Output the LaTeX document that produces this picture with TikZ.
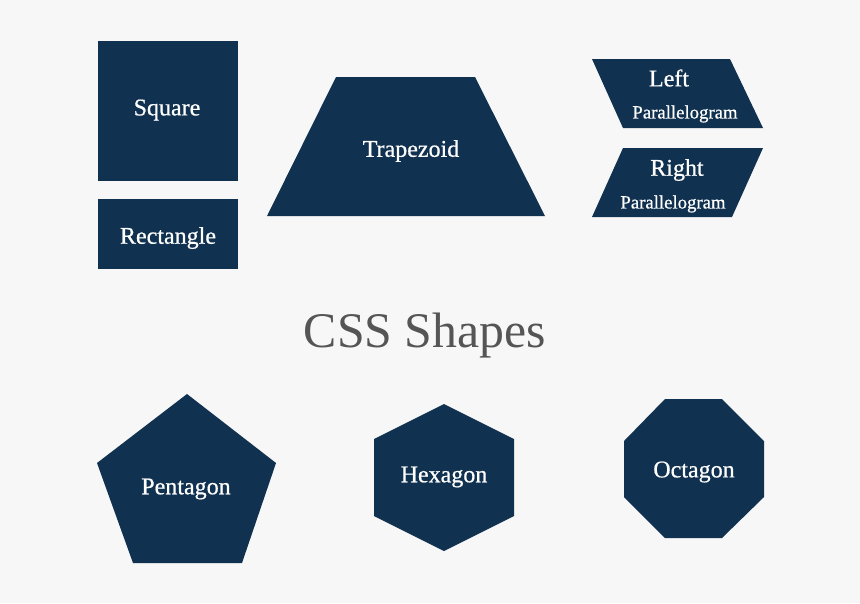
\documentclass[tikz,border=0pt]{standalone}
\usepackage{fontspec}
\setmainfont{Liberation Serif}
\definecolor{navy}{HTML}{10314F}
\definecolor{paper}{HTML}{F7F7F7}
\definecolor{titlegrey}{HTML}{555555}

\tikzset{
  shapefill/.style={fill=navy},
  shapelabel/.style={text=white, font=\fontsize{20.5}{22}\selectfont\addfontfeature{FakeBold=0.6}, inner sep=0pt},
  smalllabel/.style={text=white, font=\fontsize{16}{18}\selectfont\addfontfeature{FakeBold=0.6}, inner sep=0pt}
}

\begin{document}
\begin{tikzpicture}[x=0.03cm, y=-0.03cm]

    \fill[paper] (0,0) rectangle (860,603);
    \useasboundingbox (0,0) rectangle (860,603);

    % top row
    \fill[shapefill] (98,41) rectangle (238,181);
    \fill[shapefill] (98,199) rectangle (238,269);
    \fill[shapefill] (336,77) -- (475,77) -- (545,216) -- (267,216) -- cycle;
    \fill[shapefill] (592,59) -- (730,59) -- (763,128) -- (623,128) -- cycle;
    \fill[shapefill] (623,148) -- (763,148) -- (732,217) -- (592,217) -- cycle;

    % bottom row
    \fill[shapefill] (187,394) -- (276,463) -- (242,563) -- (133,563) -- (97,463) -- cycle;
    \fill[shapefill] (444,404) -- (514,439) -- (514,516) -- (444,551) -- (374,516) -- (374,439) -- cycle;
    \fill[shapefill] (665,399) -- (722,399) -- (764,441) -- (764,497) -- (722,538)
      -- (665,538) -- (624,497) -- (624,441) -- cycle;

    \node[shapelabel] (square) at (167,110) {Square};
    \node[shapelabel] (rectangle) at (168,238) {Rectangle};
    \node[shapelabel] (trapezoid) at (411,151) {Trapezoid};
    \node[shapelabel] (left) at (669,78) {Left};
    \node[smalllabel] (leftpar) at (685,114) {Parallelogram};
    \node[shapelabel] (right) at (677,170) {Right};
    \node[smalllabel] (rightpar) at (673,204) {Parallelogram};

    \node[text=titlegrey, inner sep=0pt,
      font=\fontsize{42.5}{46}\selectfont] (title) at (425,336) {CSS Shapes};

    \node[shapelabel] (pentagon) at (186,489) {Pentagon};
    \node[shapelabel] (hexagon) at (444,477) {Hexagon};
    \node[shapelabel] (octagon) at (694,472) {Octagon};
\end{tikzpicture}
\end{document}
